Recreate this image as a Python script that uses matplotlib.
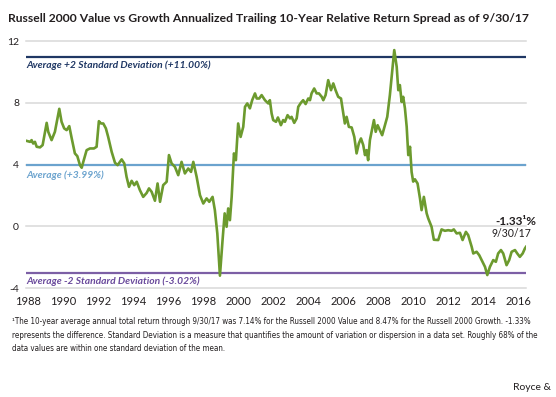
import matplotlib
matplotlib.use("Agg")
import matplotlib.pyplot as plt
from matplotlib import font_manager

# ---- data ----
years = [
	1987.94, 1988.13, 1988.22, 1988.31, 1988.41, 1988.51, 1988.70, 1988.85, 1989.08, 1989.17,
	1989.36, 1989.55, 1989.80, 1989.93, 1990.08, 1990.22, 1990.37, 1990.51, 1990.69, 1990.83,
	1990.98, 1991.08, 1991.17, 1991.36, 1991.55, 1991.78, 1991.93, 1992.06, 1992.18, 1992.31,
	1992.46, 1992.59, 1992.79, 1992.98, 1993.13, 1993.36, 1993.51, 1993.64, 1993.78, 1993.93,
	1994.08, 1994.22, 1994.40, 1994.59, 1994.79, 1994.92, 1995.07, 1995.26, 1995.41, 1995.55,
	1995.73, 1995.93, 1996.06, 1996.21, 1996.40, 1996.59, 1996.78, 1996.97, 1997.16, 1997.32,
	1997.45, 1997.64, 1997.83, 1998.02, 1998.21, 1998.36, 1998.55, 1998.68, 1998.82, 1998.97,
	1999.12, 1999.24, 1999.35, 1999.44, 1999.54, 1999.64, 1999.77, 1999.88, 2000.01, 2000.15,
	2000.30, 2000.40, 2000.53, 2000.68, 2000.81, 2000.97, 2001.07, 2001.21, 2001.35, 2001.54,
	2001.73, 2001.82, 2001.92, 2002.01, 2002.17, 2002.28, 2002.45, 2002.58, 2002.68, 2002.83,
	2002.97, 2003.06, 2003.21, 2003.35, 2003.44, 2003.59, 2003.72, 2003.86, 2004.01, 2004.11,
	2004.20, 2004.35, 2004.49, 2004.62, 2004.78, 2004.87, 2005.00, 2005.15, 2005.31, 2005.44,
	2005.57, 2005.72, 2005.88, 2006.01, 2006.10, 2006.20, 2006.33, 2006.49, 2006.64, 2006.77,
	2006.90, 2007.02, 2007.15, 2007.25, 2007.34, 2007.43, 2007.53, 2007.76, 2007.86, 2007.97,
	2008.10, 2008.23, 2008.39, 2008.52, 2008.67, 2008.77, 2008.92, 2009.06, 2009.15, 2009.24,
	2009.34, 2009.43, 2009.53, 2009.63, 2009.72, 2009.82, 2009.91, 2010.00, 2010.10, 2010.25,
	2010.39, 2010.48, 2010.61, 2010.77, 2010.86, 2011.05, 2011.18, 2011.43, 2011.62, 2011.81,
	2012.00, 2012.19, 2012.32, 2012.48, 2012.67, 2012.82, 2013.01, 2013.14, 2013.34, 2013.43,
	2013.62, 2013.77, 2013.91, 2014.10, 2014.23, 2014.38, 2014.57, 2014.72, 2014.85, 2015.01,
	2015.14, 2015.33, 2015.48, 2015.62, 2015.81, 2015.94, 2016.09, 2016.25, 2016.38, 2016.44,
]
spread = [
	5.54, 5.48, 5.59, 5.37, 5.48, 5.16, 5.12, 5.27, 6.71, 6.13,
	5.59, 6.13, 7.62, 6.78, 6.35, 6.24, 6.50, 5.70, 4.73, 4.55,
	3.97, 3.80, 4.18, 4.94, 5.05, 5.05, 5.16, 6.82, 6.67, 6.67,
	6.35, 5.80, 4.83, 4.12, 3.97, 4.34, 4.08, 3.21, 2.56, 2.95,
	2.67, 2.89, 2.35, 1.91, 2.17, 2.46, 2.24, 1.66, 2.78, 1.59,
	2.67, 2.89, 4.62, 4.08, 3.86, 3.32, 4.18, 3.43, 3.75, 3.53,
	4.18, 3.21, 2.02, 1.48, 1.81, 1.59, 1.91, 1.05, -0.46, -3.20,
	-0.89, 0.84, -0.03, 1.16, 0.40, 1.91, 4.73, 4.29, 6.67, 5.80,
	6.45, 7.75, 7.97, 7.65, 8.18, 8.62, 8.29, 8.29, 8.51, 8.18,
	7.97, 8.18, 7.32, 6.89, 6.78, 7.06, 6.56, 6.89, 6.78, 7.21,
	7.00, 7.10, 6.71, 7.00, 7.75, 8.01, 8.18, 7.93, 8.29, 8.18,
	8.62, 8.94, 8.62, 8.62, 8.40, 8.18, 8.51, 9.48, 8.83, 9.27,
	8.83, 8.40, 8.29, 7.32, 6.67, 7.10, 6.45, 6.41, 5.80, 4.73,
	5.38, 5.70, 5.27, 4.62, 4.94, 4.29, 5.59, 6.89, 6.13, 6.56,
	6.24, 5.91, 6.56, 7.10, 8.51, 9.70, 11.43, 10.34, 8.83, 9.16,
	8.07, 8.40, 7.65, 6.45, 4.62, 5.16, 3.53, 2.90, 3.05, 2.78,
	1.80, 1.05, 1.91, 0.84, 0.51, -0.03, -0.87, -0.89, -0.20, -0.29,
	-0.25, -0.29, -0.20, -0.46, -0.42, -0.89, -0.36, -0.57, -1.33, -1.76,
	-1.65, -1.87, -2.19, -2.63, -3.16, -2.63, -2.19, -2.30, -1.76, -1.54,
	-1.76, -2.52, -2.19, -1.65, -1.54, -1.76, -1.98, -1.76, -1.43, -1.33,
]
xticks = list(range(1988, 2017, 2))
yticks = [12, 8, 4, 0, -4]

avg_line = 3.99
upper_line = 11.00
lower_line = -3.02

title = "Russell 2000 Value vs Growth Annualized Trailing 10-Year Relative Return Spread as of 9/30/17"
footnote = ("\u00b9The 10-year average annual total return through 9/30/17 was 7.14% for the Russell 2000 Value and 8.47% for the Russell 2000 Growth. -1.33%\n"
	"represents the difference. Standard Deviation is a measure that quantifies the amount of variation or dispersion in a data set. Roughly 68% of the\n"
	"data values are within one standard deviation of the mean.")

# ---- fonts ----
installed = set(f.name for f in font_manager.fontManager.ttflist)
def _pick(names, default="DejaVu Sans"):
	for n in names:
		if n in installed:
			return n
	return default

def _narrow():
	# look for any condensed / narrow regular face
	for f in font_manager.fontManager.ttflist:
		cond = str(f.stretch) in ("condensed", "semi-condensed", "extra-condensed") \
			or "Narrow" in f.name or "Condensed" in f.name
		if cond and f.style == "normal" and f.weight in (400, "normal", "regular"):
			return font_manager.FontProperties(fname=f.fname)
	return font_manager.FontProperties(family="Liberation Sans")

MAIN = _pick(["Lato", "Open Sans"])
plt.rcParams["font.family"] = [MAIN, "DejaVu Sans"]

GREEN = "#6C9A2E"
NAVY = "#1F3764"
BLUE = "#6BA3CE"
PURPLE = "#7C5FA5"
TXT = "#231F20"

fig = plt.figure(figsize=(5.56, 3.97), dpi=100)
ax = fig.add_axes([26/556, 1-288/397, 500/556, (288-41.3)/397])

# gridlines
for v in yticks:
	ax.axhline(v, color="#d9d9d9", lw=1.1, zorder=1, clip_on=False)

# reference lines
ax.axhline(upper_line, color=NAVY, lw=1.6, zorder=2)
ax.axhline(avg_line, color=BLUE, lw=1.6, zorder=2)
ax.axhline(lower_line, color=PURPLE, lw=1.6, zorder=2)

ax.plot(years, spread, color=GREEN, lw=1.9, zorder=3, solid_joinstyle="round")

ax.set_xlim(1987.9, years[-1])
ax.set_ylim(-4, 12)

lab = dict(fontsize=7.4, fontweight="bold", fontstyle="italic", ha="left", va="center")
ax.text(1987.95, upper_line - 0.52, "Average +2 Standard Deviation (+11.00%)", color=NAVY, **lab)
ax.text(1987.95, avg_line - 0.66, "Average (+3.99%)", color=BLUE, **lab)
ax.text(1987.95, lower_line - 0.52, "Average -2 Standard Deviation (-3.02%)", color="#6A4A9C", **lab)

# last value callout
ax.text(years[-1] + 0.62, 0.32, "-1.33\u00b9%", fontsize=8.5, fontweight="bold", color=TXT, ha="right", va="center")
ax.text(years[-1] + 0.28, -0.46, "9/30/17", fontsize=7.6, color=TXT, ha="right", va="center")

ax.set_xticks(xticks)
ax.set_xticklabels([str(t) for t in xticks], fontsize=8, color=TXT)
ax.set_yticks(yticks)
ax.set_yticklabels([str(t) for t in yticks], fontsize=7.5, color=TXT)
ax.tick_params(length=0, axis="y", pad=5)
ax.tick_params(length=0, axis="x", pad=6)
for s in ax.spines.values():
	s.set_visible(False)

fig.text(8/556, 1-19/397, title, fontsize=8.7, fontweight="bold", color=TXT, ha="left", va="center")

# footnote: shrink to the width it takes in the reference
fn = fig.text(12/556, 1-317/397, footnote, fontproperties=_narrow(), fontsize=7, color=TXT,
	ha="left", va="top", linespacing=1.25)
fig.canvas.draw()
w = fn.get_window_extent().width
size = 7 * 527 / w
fn.set_fontsize(size)
fn.set_linespacing(1.36 * 7 / size)

fig.text(513/556, 1-387/397, "Royce &", fontsize=7.5, color=TXT, ha="left", va="center")

fig.savefig("out.png", dpi=100)
